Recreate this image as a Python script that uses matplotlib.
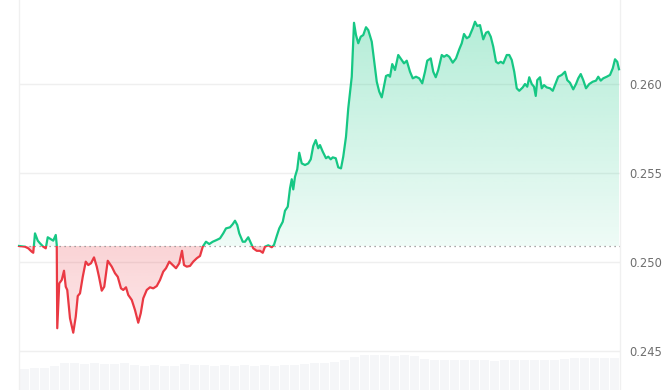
import numpy as np
import matplotlib
matplotlib.use("Agg")
import matplotlib.pyplot as plt
from matplotlib.path import Path
from matplotlib.patches import Rectangle

# ---- data ----
hours = [0.00, 0.24, 0.37, 0.51, 0.57, 0.64, 0.75, 0.84, 0.97, 1.07, 1.15, 1.28, 1.37, 1.47, 1.51,
         1.53, 1.61, 1.71, 1.80, 1.87, 1.93, 2.04, 2.17, 2.27, 2.35, 2.44, 2.55, 2.67, 2.77, 2.88,
         3.00, 3.11, 3.20, 3.31, 3.41, 3.55, 3.71, 3.84, 3.95, 4.08, 4.17, 4.28, 4.37, 4.51, 4.64,
         4.77, 4.87, 4.97, 5.11, 5.24, 5.37, 5.51, 5.64, 5.77, 5.88, 6.01, 6.15, 6.28, 6.41, 6.52,
         6.60, 6.71, 6.84, 6.97, 7.11, 7.24, 7.35, 7.48, 7.61, 7.75, 7.91, 8.04, 8.17, 8.28, 8.44,
         8.55, 8.64, 8.73, 8.81, 8.95, 9.04, 9.17, 9.27, 9.37, 9.51, 9.64, 9.75, 9.84, 9.97, 10.11,
         10.20, 10.31, 10.41, 10.55, 10.64, 10.75, 10.84, 10.91, 10.97, 11.04, 11.13, 11.21, 11.31,
         11.44, 11.57, 11.67, 11.77, 11.87, 11.97, 12.04, 12.15, 12.28, 12.37, 12.47, 12.55, 12.67,
         12.77, 12.88, 12.97, 13.08, 13.17, 13.31, 13.40, 13.48, 13.57, 13.67, 13.77, 13.88, 13.97,
         14.11, 14.20, 14.31, 14.41, 14.51, 14.57, 14.68, 14.77, 14.84, 14.93, 15.04, 15.17, 15.31,
         15.40, 15.51, 15.64, 15.75, 15.88, 16.01, 16.13, 16.24, 16.33, 16.47, 16.57, 16.67, 16.77,
         16.91, 17.00, 17.11, 17.21, 17.35, 17.48, 17.61, 17.71, 17.80, 17.91, 18.01, 18.15, 18.24,
         18.33, 18.44, 18.57, 18.68, 18.77, 18.87, 18.97, 19.08, 19.17, 19.27, 19.37, 19.51, 19.61,
         19.71, 19.81, 19.91, 20.01, 20.15, 20.24, 20.33, 20.41, 20.51, 20.60, 20.67, 20.73, 20.84,
         20.91, 21.00, 21.11, 21.24, 21.35, 21.44, 21.57, 21.71, 21.84, 21.93, 22.04, 22.17, 22.28,
         22.37, 22.47, 22.57, 22.68, 22.81, 22.95, 23.08, 23.17, 23.27, 23.37, 23.51, 23.64, 23.75,
         23.84, 23.93, 24.00]

price = [0.25090, 0.25086, 0.25077, 0.25058, 0.25052, 0.25161, 0.25120, 0.25105, 0.25086, 0.25077,
         0.25139, 0.25128, 0.25120, 0.25152, 0.25096, 0.24628, 0.24880, 0.24899, 0.24951, 0.24861,
         0.24843, 0.24684, 0.24603, 0.24693, 0.24809, 0.24824, 0.24917, 0.25002, 0.24983, 0.24993,
         0.25026, 0.24974, 0.24917, 0.24839, 0.24861, 0.25007, 0.24974, 0.24937, 0.24917, 0.24852,
         0.24843, 0.24858, 0.24815, 0.24787, 0.24730, 0.24659, 0.24712, 0.24796, 0.24843, 0.24858,
         0.24852, 0.24865, 0.24899, 0.24946, 0.24965, 0.25002, 0.24983, 0.24965, 0.24993, 0.25063,
         0.24983, 0.24974, 0.24978, 0.25002, 0.25021, 0.25034, 0.25086, 0.25114, 0.25101, 0.25114,
         0.25124, 0.25133, 0.25161, 0.25189, 0.25195, 0.25213, 0.25232, 0.25208, 0.25161, 0.25114,
         0.25114, 0.25139, 0.25108, 0.25077, 0.25063, 0.25063, 0.25052, 0.25086, 0.25094, 0.25083,
         0.25096, 0.25146, 0.25189, 0.25226, 0.25288, 0.25311, 0.25414, 0.25465, 0.25408, 0.25479,
         0.25521, 0.25614, 0.25554, 0.25545, 0.25554, 0.25577, 0.25652, 0.25685, 0.25639, 0.25657,
         0.25620, 0.25583, 0.25592, 0.25577, 0.25588, 0.25583, 0.25532, 0.25526, 0.25592, 0.25704,
         0.25863, 0.26041, 0.26344, 0.26275, 0.26229, 0.26266, 0.26275, 0.26319, 0.26303, 0.26238,
         0.26135, 0.26013, 0.25957, 0.25925, 0.25966, 0.26045, 0.26051, 0.26041, 0.26112, 0.26079,
         0.26163, 0.26135, 0.26116, 0.26131, 0.26069, 0.26032, 0.26041, 0.26032, 0.26004, 0.26069,
         0.26131, 0.26144, 0.26069, 0.26038, 0.26079, 0.26163, 0.26153, 0.26163, 0.26153, 0.26120,
         0.26144, 0.26195, 0.26229, 0.26281, 0.26257, 0.26266, 0.26313, 0.26350, 0.26326, 0.26331,
         0.26251, 0.26288, 0.26294, 0.26266, 0.26210, 0.26125, 0.26116, 0.26125, 0.26116, 0.26163,
         0.26163, 0.26135, 0.26069, 0.25976, 0.25962, 0.25981, 0.26000, 0.25985, 0.26038, 0.26000,
         0.25985, 0.25933, 0.26022, 0.26038, 0.25976, 0.25994, 0.25981, 0.25976, 0.25962, 0.25994,
         0.26041, 0.26051, 0.26069, 0.26022, 0.26007, 0.25970, 0.26000, 0.26032, 0.26056, 0.26022,
         0.25976, 0.26000, 0.26013, 0.26019, 0.26041, 0.26019, 0.26032, 0.26041, 0.26051, 0.26088,
         0.26139, 0.26125, 0.26083]

baseline = 0.25090

volume = [21, 22, 22, 24, 27, 27, 26, 27, 26, 26, 27, 25, 24, 25, 24, 24, 26, 25, 25, 24,
          25, 24, 25, 24, 25, 24, 25, 25, 26, 27, 27, 28, 30, 33, 35, 35, 35, 34, 35, 34,
          31, 30, 30, 30, 30, 30, 30, 29, 30, 30, 30, 30, 30, 30, 31, 32, 32, 32, 32, 32]

yticks = [0.245, 0.250, 0.255, 0.260]
ytick_labels = ["0.245", "0.250", "0.255", "0.260"]

GREEN = "#16c784"
RED = "#ea3943"

# ---- figure ----
W, H = 668, 390
fig = plt.figure(figsize=(W / 100, H / 100), dpi=100)
ax_l, ax_r = 19 / W, 620 / W
ax = fig.add_axes([ax_l, 0, ax_r - ax_l, 1])
axv = fig.add_axes([ax_l, 0, ax_r - ax_l, 1], sharex=ax)
axv.set_zorder(0)
ax.set_zorder(1)
ax.patch.set_alpha(0)

t = np.array(hours)
p = np.array(price)
xmin, xmax = 0.0, 24.04
ymin, ymax = 0.24281, 0.26472

# volume bars
nv = len(volume)
vw = 24.0 / nv
vx = np.arange(nv) * vw + vw / 2
axv.bar(vx, volume, width=vw * 0.9, color="#f5f6f8", linewidth=0)
axv.set_ylim(0, 390)
axv.axis("off")

ax.set_xlim(xmin, xmax)
ax.set_ylim(ymin, ymax)

# grid
for yv in yticks:
    ax.axhline(yv, color="#efefef", lw=1.0, zorder=1)

# fills with gradient
def gradient_fill(poly, color, a_top, a_bot, y0, y1):
    paths = poly.get_paths()
    poly.remove()
    if not paths:
        return
    cp = Path.make_compound_path(*paths)
    rgb = matplotlib.colors.to_rgb(color)
    n = 256
    alphas = np.linspace(a_bot, a_top, n)[:, None]
    img = np.zeros((n, 1, 4))
    img[..., 0], img[..., 1], img[..., 2] = rgb
    img[..., 3] = alphas
    im = ax.imshow(img, aspect="auto", extent=[xmin, xmax, y0, y1], origin="lower",
                   zorder=2, interpolation="bilinear")
    im.set_clip_path(cp, transform=ax.transData)

pg = ax.fill_between(t, p, baseline, where=p >= baseline, interpolate=True, lw=0)
gradient_fill(pg, GREEN, 0.32, 0.07, baseline, 0.2635)
pr = ax.fill_between(t, p, baseline, where=p <= baseline, interpolate=True, lw=0)
gradient_fill(pr, RED, 0.22, 0.12, 0.2460, baseline)
ax.set_xlim(xmin, xmax)
ax.set_ylim(ymin, ymax)

# baseline dotted
ax.axhline(baseline, color="#8a8a8a", lw=0.9, ls=(0, (1, 3)), zorder=3)

# line coloured by side of baseline
lg, = ax.plot(t, p, color=GREEN, lw=1.6, zorder=4, solid_joinstyle="round")
lr, = ax.plot(t, p, color=RED, lw=1.6, zorder=4, solid_joinstyle="round")
lg.set_clip_path(Rectangle((xmin - 1, baseline), xmax + 2, 1, transform=ax.transData))
lr.set_clip_path(Rectangle((xmin - 1, baseline - 1), xmax + 2, 1, transform=ax.transData))

# axes styling
for s in ["top", "bottom"]:
    ax.spines[s].set_visible(False)
for s in ["left", "right"]:
    ax.spines[s].set_color("#f0f0f0")
    ax.spines[s].set_linewidth(1.0)
ax.set_xticks([])
ax.yaxis.tick_right()
ax.set_yticks(yticks)
ax.set_yticklabels(ytick_labels)
ax.tick_params(axis="y", length=0, pad=7, labelsize=8.3, labelcolor="#6e6e6e")

fig.savefig("out.png", dpi=100)
